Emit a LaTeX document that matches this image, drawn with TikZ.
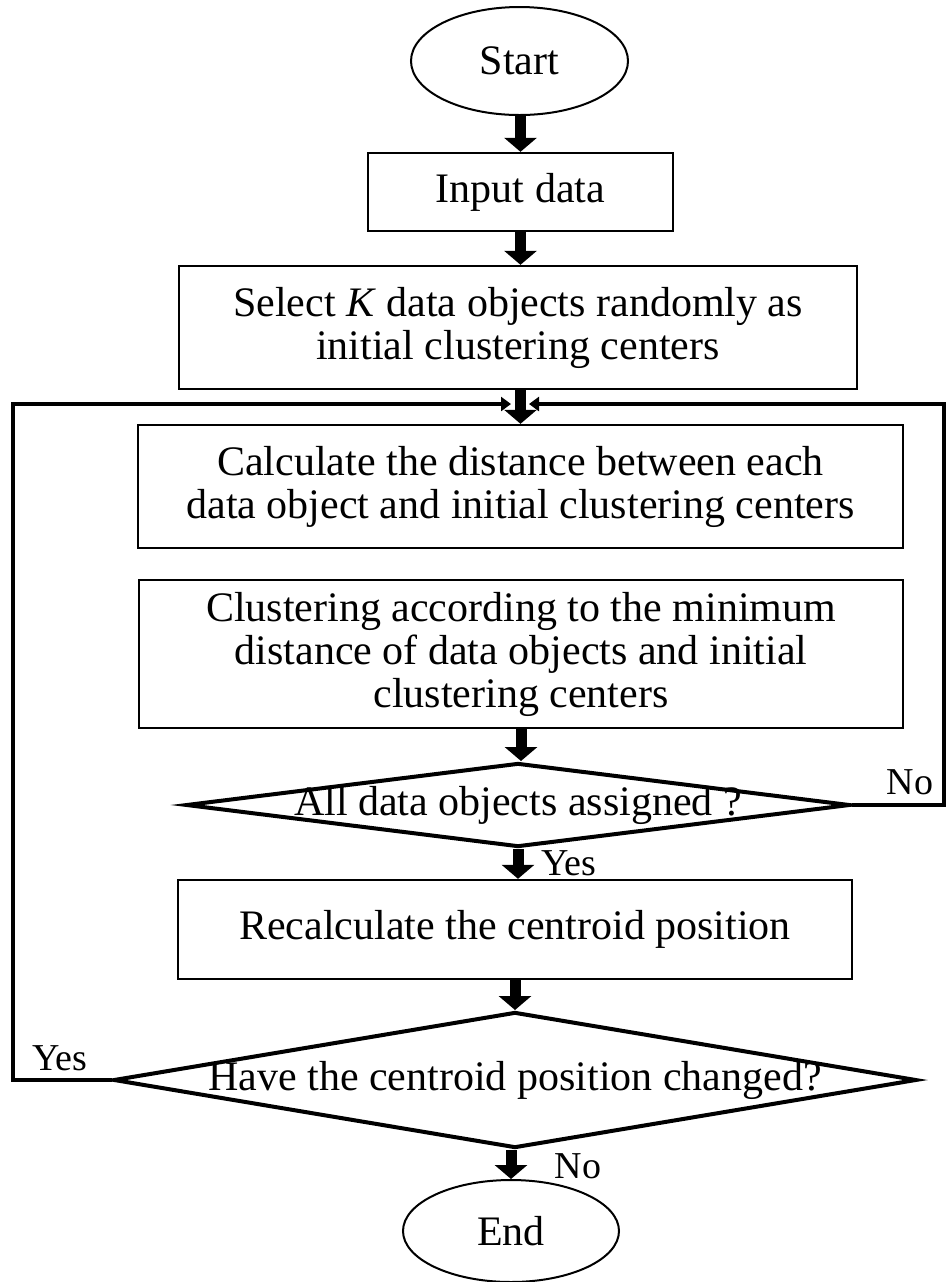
\documentclass[tikz,border=0pt]{standalone}
\usepackage{fontspec}
\setmainfont{Liberation Serif}
\usetikzlibrary{shapes.geometric,arrows.meta}
\begin{document}
\begin{tikzpicture}[x=0.5pt,y=-0.5pt,
  every node/.style={font=\fontsize{21pt}{21.5pt}\selectfont},
  box/.style={draw, line width=1.2pt, inner sep=0pt, align=center},
  term/.style={draw, ellipse, line width=1pt, inner sep=0pt},
  dia/.style={draw, diamond, line width=2pt, inner sep=0pt},
  flow/.style={line width=5.5pt, -{Triangle[width=16pt,length=7pt]}},
  loopline/.style={line width=2pt, line join=miter, -{Triangle[width=7pt,length=5pt]}},
  lbl/.style={inner sep=0pt, font=\fontsize{19pt}{20pt}\selectfont}]
\useasboundingbox (0,0) rectangle (946,1282);
% nodes
\node[term, minimum width=108.5pt, minimum height=54pt] (start) at (519.5,61) {Start};
\node[box, minimum width=152.5pt, minimum height=39pt] (input) at (520.5,192) {Input data};
\node[box, minimum width=339pt, minimum height=61.5pt] (select) at (518,327.5)
  {Select \textit{K} data objects randomly as\\initial clustering centers};
\node[box, minimum width=382.5pt, minimum height=61.5pt] (calc) at (520.5,486.5)
  {Calculate the distance between each\\data object and initial clustering centers};
\node[box, minimum width=382pt, minimum height=74pt] (clus) at (521,654)
  {Clustering according to the minimum\\distance of data objects and initial\\clustering centers};
\node[dia, minimum width=332pt, minimum height=42pt] (d1) at (518,805)
  {\makebox[0pt]{All data objects assigned ?}};
\node[box, minimum width=337pt, minimum height=49.5pt] (recalc) at (515,929.5)
  {Recalculate the centroid position};
\node[dia, minimum width=401.5pt, minimum height=68pt] (d2) at (515,1080)
  {\makebox[0pt]{Have the centroid position changed?}};
\node[term, minimum width=108pt, minimum height=51pt] (end) at (511,1231) {End};
% labels
\node[lbl] (noR) at (910,782) {No};
\node[lbl] (yes1) at (569,863) {Yes};
\node[lbl] (yesL) at (60,1058) {Yes};
\node[lbl] (no2) at (578,1166) {No};
% loop coordinates
\coordinate (lx) at (13,404);
\coordinate (rx) at (944,404);
\coordinate (lj) at (511,404);
\coordinate (rj) at (529,404);
\draw[loopline] (d2.west) -| (lx) -- (lj);
\draw[loopline] (d1.east) -| (rx) -- (rj);
% flow arrows
\draw[flow] (start.south -| input.north) -- (input.north);
\draw[flow] (input.south) -- (input.south |- select.north);
\draw[flow] (select.south -| calc.north) -- (calc.north);
\draw[flow] (clus.south) -- (clus.south |- d1.north);
\draw[flow] (d1.south) -- (d1.south |- recalc.north);
\draw[flow] (recalc.south) -- (recalc.south |- d2.north);
\draw[flow] (d2.south -| end.north) -- (end.north);
\end{tikzpicture}
\end{document}
